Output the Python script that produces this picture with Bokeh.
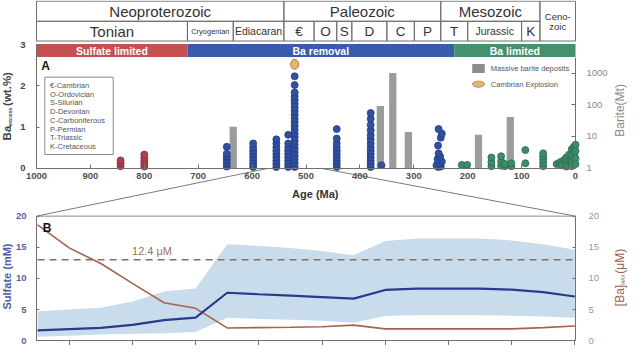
import math
from bokeh.plotting import figure
from bokeh.models import Range1d, LinearAxis, FixedTicker, LogScale, CustomJSTickFormatter, BasicTickFormatter
from bokeh.core.properties import value
from bokeh.embed import file_html
from bokeh.resources import INLINE

# ------------------------------------------------------------------ data
era_names = ["Neoproterozoic", "Paleozoic", "Mesozoic"]
era_old = [1000, 541, 250]
era_young = [541, 250, 66]
ceno_lines = ["Ceno-", "zoic"]
ceno_old = [66]
ceno_young = [0]
period_names = ["Tonian", "Cryogenian", "Ediacaran", "€", "O", "S", "D", "C", "P", "T", "Jurassic", "K"]
period_old = [1000, 720, 635, 541, 485, 443, 415, 350, 299, 250, 200, 100]
period_young = [720, 635, 541, 485, 443, 415, 350, 299, 250, 200, 100, 66]
regime_names = ["Sulfate limited", "Ba removal", "Ba limited"]
regime_old = [1000, 720, 225]
regime_young = [720, 225, 0]
period_key = ["€-Cambrian", "O-Ordovician", "S-Silurian", "D-Devonian",
              "C-Carboniferous", "P-Permian", "T-Triassic", "K-Cretaceous"]

age_ticks = [1000, 900, 800, 700, 600, 500, 400, 300, 200, 100, 0]
ba_ticks = [0, 1, 2, 3]
barite_ticks = [1, 10, 100, 1000]
sulfate_ticks = [0, 5, 10, 15, 20]
b_ticks = [0, 1, 2, 3, 4, 5, 6, 7, 8]

red_age = [844, 844, 844, 800, 800, 800, 800, 800]
red_ba = [0.05, 0.12, 0.19, 0.04, 0.10, 0.17, 0.25, 0.33]

blue_age = [647, 647, 647, 647, 647, 647,
            598, 598, 598, 598, 598, 598, 598, 598,
            555, 555, 555, 555, 555, 555, 555, 555, 555,
            533, 533, 533, 533, 533, 533, 533, 533, 533,
            521, 521, 521, 521, 521, 521, 521, 521, 521, 521, 521, 521,
            521, 521, 521, 521, 521, 521, 521, 521, 521, 521, 521,
            443, 443, 443, 443, 443, 443, 443, 443, 443, 443,
            380, 380, 380, 380, 380, 380, 380, 380, 380, 380, 380, 380, 380, 380,
            360,
            255, 250, 258, 253, 248, 256, 251, 254, 255, 250, 248, 254]
blue_ba = [0.04, 0.12, 0.20, 0.28, 0.35, 0.52,
           0.03, 0.10, 0.18, 0.26, 0.34, 0.42, 0.50, 0.60,
           0.03, 0.10, 0.18, 0.26, 0.34, 0.42, 0.50, 0.60, 0.70,
           0.03, 0.10, 0.18, 0.26, 0.34, 0.42, 0.50, 0.60, 0.81,
           0.03, 0.12, 0.21, 0.30, 0.39, 0.48, 0.57, 0.66, 0.75, 0.84, 0.93, 1.02,
           1.11, 1.20, 1.29, 1.38, 1.47, 1.56, 1.65, 1.74, 1.84, 2.02, 2.23,
           0.03, 0.10, 0.18, 0.26, 0.34, 0.42, 0.50, 0.60, 0.72, 0.95,
           0.03, 0.10, 0.18, 0.26, 0.34, 0.42, 0.50, 0.60, 0.70, 0.80, 0.92, 1.05, 1.20, 1.34,
           0.07,
           0.03, 0.04, 0.07, 0.12, 0.16, 0.22, 0.28, 0.36, 0.55, 0.74, 0.84, 0.95]

green_age = [211, 201, 156, 156, 156, 138, 138, 138, 131, 131, 119, 119, 93, 93,
             60, 60, 60, 60, 60, 35, 30, 26, 26, 21, 17, 17, 17, 12, 10,
             7, 7, 7, 7, 3, 2, 0, 0, 0, 0]
green_ba = [0.08, 0.08, 0.05, 0.14, 0.26, 0.06, 0.17, 0.29, 0.05, 0.10, 0.05, 0.12, 0.12, 0.44,
            0.05, 0.13, 0.21, 0.29, 0.36, 0.10, 0.13, 0.16, 0.07, 0.20, 0.26, 0.13, 0.04, 0.33, 0.18,
            0.46, 0.31, 0.16, 0.05, 0.52, 0.38, 0.57, 0.42, 0.24, 0.10]

explosion_age = [521]
explosion_ba = [2.52]

barite_age = [635, 362, 339, 310, 180, 121]
barite_mt = [20, 91, 1000, 13.6, 11.2, 40.5]
barite_width = 13.5

zoom_window = [569, 473]

b_x = [-0.5, 0, 0.5, 1, 1.5, 2, 2.5, 3, 3.5, 4, 4.5, 5, 5.5, 6, 6.5, 7, 7.5, 8]
b_sulfate = [1.65, 1.85, 2.05, 2.55, 3.3, 3.7, 7.7, 7.46, 7.25, 7.0, 6.75, 8.15,
             8.35, 8.35, 8.35, 8.2, 7.8, 7.1]
b_ba_max = [18.6, 14.9, 12.4, 9.2, 6.1, 5.2, 2.05, 2.1, 2.15, 2.25, 2.5, 1.9,
            1.9, 1.9, 1.9, 1.9, 2.1, 2.35]
b_sulfate_lo = [0.65, 0.8, 1.0, 1.1, 1.2, 1.4, 3.7, 3.5, 3.35, 3.2, 2.9, 3.95,
                4.1, 4.1, 4.1, 4.0, 3.9, 3.7]
b_sulfate_hi = [4.7, 5.0, 5.3, 6.3, 7.9, 8.4, 15.5, 15.2, 14.9, 14.4, 13.7, 16.0,
                16.4, 16.4, 16.4, 16.1, 15.5, 14.6]
ba_threshold = 13.0
threshold_label = "12.4 μM"

# ------------------------------------------------------------------ layout
W, H = 627, 345
REF_L, REF_R = 4.0, 631.0          # reference x at canvas edges
REF_T = 1.0
REF_B = REF_T + 360.0              # reference y at canvas bottom (slight squeeze)
FONT = "Liberation Sans"

A_BASE, A_TOP3 = 176.0, 47.0      # pixel anchors for panel A (Ba=0, Ba=3)
BAND_TOP, BAND_BOT = 46.5, 60.0
B_BASE, B_TOP = 356.0, 226.0      # pixel anchors for panel B (0, 20)


def at(pa, va, pb, vb, p):
    return va + (vb - va) / (pb - pa) * (p - pa)


def span(pa, va, pb, vb, p0, p1):
    return at(pa, va, pb, vb, p0), at(pa, va, pb, vb, p1)


x_age = span(40, 1000, 579, 0, REF_L, REF_R)
x_b = span(72.7, 0, 578.3, 8, REF_L, REF_R)
y_sul = span(B_BASE, 0, B_TOP, 20, REF_B, REF_T)
y_ba = span(A_BASE, 0, A_TOP3, 3, REF_B, REF_T)
lb = span(175.7, 0, 76.7, 3, REF_B, REF_T)

p = figure(width=W, height=H, title=None, toolbar_location=None, output_backend="svg",
           x_range=Range1d(*x_age), y_range=Range1d(*y_sul),
           x_axis_type=None, y_axis_type=None, min_border=0,
           outline_line_color=None, background_fill_color="white", border_fill_color="white")
p.extra_x_ranges = {"bx": Range1d(*x_b), "pxx": Range1d(REF_L, REF_R)}
p.extra_y_ranges = {"ba": Range1d(*y_ba), "barite": Range1d(10 ** lb[0], 10 ** lb[1]),
                    "px": Range1d(REF_B, REF_T)}
p.extra_y_scales = {"barite": LogScale()}


def txt(x, y, s, size, color="#333333", bold=False, align="center", angle=0.0,
        xr="pxx", yr="px"):
    p.text(x=x, y=y, text=s, x_range_name=xr, y_range_name=yr,
           text_font=value(FONT), text_font_size=value(size),
           text_font_style="bold" if bold else "normal", text_color=color,
           text_align=align, text_baseline="middle", angle=angle)


# ---------------- header: geological time scale
p.quad(left=era_old, right=era_young, top=[1.7] * 3, bottom=[22.7] * 3, y_range_name="px",
       fill_color=None, line_color="#707070", line_width=1)
p.quad(left=period_old, right=period_young, top=[22.7] * len(period_old),
       bottom=[43.3] * len(period_old), y_range_name="px",
       fill_color=None, line_color="#707070", line_width=1)
p.quad(left=ceno_old, right=ceno_young, top=[1.7], bottom=[43.3], y_range_name="px",
       fill_color=None, line_color="#707070", line_width=1)
txt([(a + b) / 2 for a, b in zip(era_old, era_young)], [12.4] * 3, era_names, "15px",
    color="#333333", xr="default")
size_of = {"Cryogenian": "7.5px", "Ediacaran": "10.5px", "Jurassic": "10.5px", "Tonian": "15px"}
for n, a, b in zip(period_names, period_old, period_young):
    txt([(a + b) / 2], [33.2], [n], size_of.get(n, "13.5px"), color="#333333", xr="default")
txt([(ceno_old[0] + ceno_young[0]) / 2] * 2, [18.0, 28.3], ceno_lines, "9.5px",
    color="#333333", xr="default")

# ---------------- regime band
p.quad(left=regime_old, right=regime_young, top=[BAND_TOP] * 3, bottom=[BAND_BOT] * 3,
       y_range_name="px", fill_color=["#c4504f", "#3a5ba9", "#46906d"], line_color=None)
txt([(a + b) / 2 for a, b in zip(regime_old, regime_young)], [53.5] * 3, regime_names,
    "10.5px", color="white", bold=True, xr="default")

# ---------------- panel A data
p.vbar(x=barite_age, top=barite_mt, bottom=1, width=barite_width, y_range_name="barite",
       fill_color="#9c9c9c", line_color=None)
p.scatter(red_age, red_ba, y_range_name="ba", size=7, fill_color="#b0404f",
          line_color="#86293a", line_width=0.8)
p.scatter(blue_age, blue_ba, y_range_name="ba", size=7, fill_color="#31509f",
          line_color="#203b82", line_width=0.8)
p.scatter(green_age, green_ba, y_range_name="ba", size=7, fill_color="#3d8b6b",
          line_color="#2b6a50", line_width=0.8)
p.ellipse(x=explosion_age, y=explosion_ba, width=8, height=10, width_units="screen",
          height_units="screen", y_range_name="ba", fill_color="#e3b676", line_color="#b07a3e",
          line_width=1)

# axes of panel A
ax = LinearAxis(y_range_name="ba", fixed_location=0, bounds=(0, 1000),
                ticker=FixedTicker(ticks=age_ticks), formatter=BasicTickFormatter(),
                major_tick_in=4, major_tick_out=0, major_label_standoff=5)
p.add_layout(ax, "below")
ax_l = LinearAxis(y_range_name="ba", fixed_location=1000,
                  bounds=(0, 3), ticker=FixedTicker(ticks=ba_ticks),
                  major_tick_in=3, major_tick_out=0, major_label_standoff=11)
p.add_layout(ax_l, "left")
barite_top = 10 ** at(175.7, 0, 76.7, 3, BAND_BOT)
ax_r = LinearAxis(y_range_name="barite", fixed_location=0, bounds=(1, barite_top),
                  ticker=FixedTicker(ticks=barite_ticks), formatter=BasicTickFormatter(),
                  major_tick_in=4, major_tick_out=0, major_label_standoff=11)
p.add_layout(ax_r, "right")

# ---------------- panel B
p.varea(x=b_x, y1=b_sulfate_lo, y2=b_sulfate_hi, x_range_name="bx", fill_color="#c9dcec")
p.line([b_x[0], b_x[-1]], [ba_threshold, ba_threshold], x_range_name="bx",
       line_color="#857066", line_width=1.6, line_dash="7 5")
p.line(b_x, b_ba_max, x_range_name="bx", line_color="#a5634d", line_width=1.6)
p.line(b_x, b_sulfate, x_range_name="bx", line_color="#2a3a8e", line_width=2.2)

# frame top of B and the zoom connectors
p.line([age_ticks[0], age_ticks[-1]], [sulfate_ticks[-1]] * 2, line_color="#8a8a8a", line_width=1)
a_base_in_b = at(B_BASE, 0, B_TOP, 20, A_BASE)
p.line([age_ticks[0], zoom_window[0]], [sulfate_ticks[-1], a_base_in_b], line_color="#7a7a7a", line_width=1)
p.line([age_ticks[-1], zoom_window[1]], [sulfate_ticks[-1], a_base_in_b], line_color="#7a7a7a", line_width=1)

bl = LinearAxis(fixed_location=1000, bounds=(0, 20), ticker=FixedTicker(ticks=sulfate_ticks),
                major_tick_in=3, major_tick_out=0, major_label_standoff=10)
p.add_layout(bl, "left")
br = LinearAxis(fixed_location=0, bounds=(0, 20), ticker=FixedTicker(ticks=sulfate_ticks),
                major_tick_in=3, major_tick_out=0, major_label_standoff=13)
p.add_layout(br, "right")
bb = LinearAxis(x_range_name="bx", fixed_location=0, bounds=(at(72.7, 0, 578.3, 8, 40), 8),
                ticker=FixedTicker(ticks=b_ticks), formatter=CustomJSTickFormatter(code="return ''"),
                major_tick_in=0, major_tick_out=7)
p.add_layout(bb, "below")

for a, col, bold in [(ax, "#505050", True), (ax_l, "#444444", True), (ax_r, "#8a8a8a", False),
                     (bl, "#5a5ea8", True), (br, "#999999", False), (bb, "#888888", False)]:
    a.major_label_text_font = FONT
    a.major_label_text_font_size = "9.5px"
    a.major_label_text_font_style = "bold" if bold else "normal"
    a.major_label_text_color = col
    a.minor_tick_line_color = None
    a.axis_line_color = "#707070"
    a.major_tick_line_color = "#707070"

# ---------------- texts / legends
txt([49], [69.5], ["A"], "12px", color="#111111", bold=True)
txt([50.5], [238], ["B"], "12px", color="#111111", bold=True)
txt([318.8], [202.7], ["Age (Ma)"], "11px", color="#333333", bold=True)

p.quad(left=[48.3], right=[116.7], top=[81], bottom=[161.7], x_range_name="pxx", y_range_name="px",
       fill_color=None, line_color="#8a8a8a", line_width=1)
txt([53.5] * len(period_key), [89.5 + 9.15 * i for i in range(len(period_key))], period_key,
    "7.5px", color="#555555", align="left")

p.quad(left=[475.7], right=[488.3], top=[67.3], bottom=[76.7], x_range_name="pxx", y_range_name="px",
       fill_color="#8e8e8e", line_color=None)
p.ellipse(x=[482], y=[88.3], width=12, height=6, width_units="screen", height_units="screen",
          x_range_name="pxx", y_range_name="px", fill_color="#e3b676", line_color="#c08850")
txt([494.3, 494.3], [71.7, 88.3], ["Massive barite deposits", "Cambrian Explosion"], "7.5px",
    color="#555555", align="left")

txt([155.5], [262], [threshold_label], "11px", color="#a06e58")

# rotated axis titles
R = math.pi / 2
txt([10.5], [147], ["Ba"], "11.5px", color="#444444", bold=True, align="left", angle=R)
txt([13.5], [132], ["excess"], "5.5px", color="#444444", bold=True, align="left", angle=R)
txt([10.5], [111], ["(wt.%)"], "11.5px", color="#444444", bold=True, align="left", angle=R)
txt([10.5], [289], ["Sulfate (mM)"], "11px", color="#4f5ca8", bold=True, angle=R)
txt([623], [115.7], ["Barite(Mt)"], "12px", color="#8a8a8a", angle=R)
txt([623], [320], ["[Ba]"], "12px", color="#a0604a", align="left", angle=R)
txt([626], [298], ["MAX"], "5px", color="#a0604a", align="left", angle=R)
txt([623], [286], ["(μM)"], "12px", color="#a0604a", align="left", angle=R)

open("out.html", "w").write(file_html(p, INLINE))
